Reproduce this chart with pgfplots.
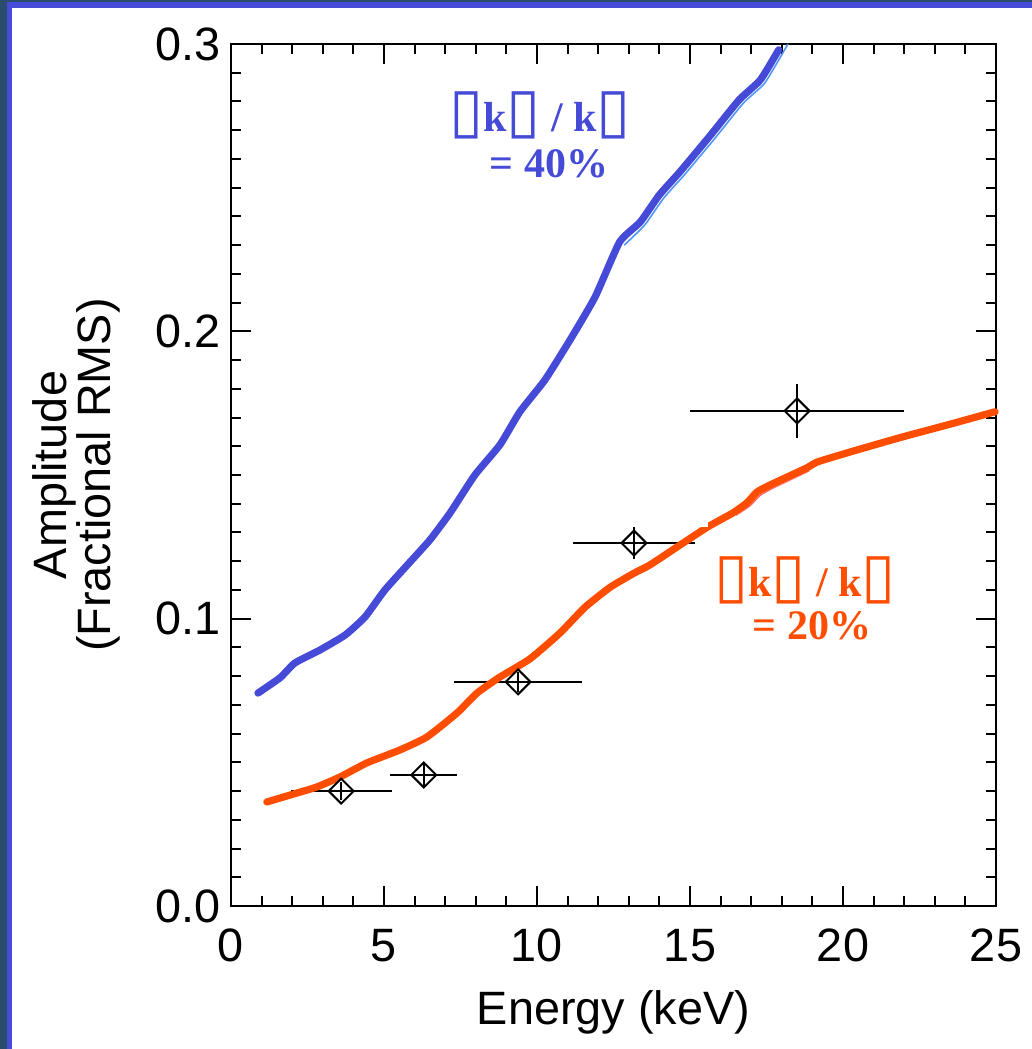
\documentclass[border=0pt]{standalone}
\usepackage{fontspec}
\setmainfont{Liberation Sans}
\newfontfamily\serifb{Liberation Serif}
\newfontfamily\symf{DejaVu Sans}
\usepackage{pgfplots}
\pgfplotsset{compat=1.18}
\definecolor{bluec}{RGB}{70,75,215}
\definecolor{lightbluec}{RGB}{80,150,255}
\definecolor{orangec}{RGB}{255,77,0}
\definecolor{lightorangec}{RGB}{255,110,110}
\definecolor{framedark}{RGB}{42,77,110}
\definecolor{frameblue}{RGB}{72,74,216}
\newcommand{\bx}{\smash{\symf\fontsize{31}{31}\selectfont ▯}}
\begin{document}
\begin{tikzpicture}
\useasboundingbox (0,0) rectangle (516pt,524.5pt);
\fill[white] (0,0) rectangle (516pt,524.5pt);
\fill[framedark] (0,523.5pt) rectangle (516pt,524.5pt);
\fill[framedark] (0,0) rectangle (3.5pt,524.5pt);
\fill[frameblue] (3.5pt,520.5pt) rectangle (516pt,523.5pt);
\fill[frameblue] (3.5pt,0) rectangle (6pt,523.5pt);
\begin{axis}[
  at={(115.5pt,71.5pt)}, anchor=south west,
  scale only axis, width=382.5pt, height=431pt,
  xmin=0, xmax=25, ymin=0, ymax=0.3,
  xtick={0,5,10,15,20,25}, ytick={0,0.1,0.2,0.3},
  minor x tick num=4, minor y tick num=9,
  tick align=inside,
  major tick length=10pt, minor tick length=5pt,
  every tick/.style={black, line width=1pt},
  axis line style={line width=1pt, black},
  clip=false,
  tick label style={font=\fontsize{23.4}{28}\selectfont},
  /pgf/number format/assume math mode=true,
  yticklabel style={/pgf/number format/fixed, /pgf/number format/fixed zerofill, /pgf/number format/precision=1, xshift=-1.5pt},
  xticklabel style={yshift=-8pt},
  xlabel={Energy (keV)},
  xlabel style={font=\fontsize{23.4}{28}\selectfont, at={(axis description cs:0.5,-0.138)}, anchor=base},
  ylabel={Amplitude\\(Fractional RMS)},
  ylabel style={font=\fontsize{23.4}{22}\selectfont, align=center, at={(axis description cs:-0.2026,0.5)}, anchor=center},
]
% data points with error bars
\addplot[only marks, black, line width=1pt, mark=square, mark size=4.4pt,
  mark options={rotate=45, line width=1pt, black, solid, fill=none},
  error bars/.cd, x dir=both, x explicit, y dir=both, y explicit, error mark=none,
  error bar style={line width=1pt, black}] coordinates {
(3.6,0.040) +- (1.65,0.003)
(6.3,0.0456) +- (1.1,0.004)
(9.38,0.078) +- (2.1,0.0035)
(13.17,0.1263) +- (2.0,0.0055)
(18.5,0.1723) +- (3.5,0.0095)
};
% faint model lines
\addplot[lightbluec, line width=0.8pt, smooth, tension=0.3] coordinates {
(12.85,0.2300) (13.52,0.2370) (14.15,0.2465) (14.82,0.2545) (15.8,0.2670) (16.75,0.2795) (17.45,0.2865) (18.2,0.3000)
};
\addplot[lightorangec, line width=0.8pt, smooth, tension=0.3] coordinates {
(16.5,0.1360) (16.96,0.1393) (17.3,0.1430) (17.72,0.1455) (18.9,0.1515)
};
% thick curves
\addplot[bluec, line width=3.6pt, smooth, tension=0.3, line cap=round, line join=round] coordinates {
(0.88,0.0741) (1.6,0.0794) (2.09,0.0846) (2.91,0.0891) (3.73,0.0943) (4.38,0.1006)
(5.03,0.1100) (5.85,0.1197) (6.5,0.1274) (7.16,0.1368) (7.97,0.150) (8.79,0.1605)
(9.44,0.172) (10.26,0.1831) (11.08,0.197) (11.9,0.212) (12.7,0.2311) (13.37,0.238)
(14.0,0.2475) (14.67,0.2555) (15.65,0.268) (16.6,0.2805) (17.3,0.2875) (17.9,0.298)
};
\addplot[orangec, line width=3.6pt, smooth, tension=0.3, line cap=round, line join=round] coordinates {
(1.17,0.0362) (2.15,0.0393) (2.8,0.0414) (3.56,0.0449) (4.44,0.0498) (5.52,0.0543)
(6.4,0.0588) (7.39,0.0672) (8.04,0.0741) (8.79,0.0797) (9.77,0.0860) (10.75,0.0950)
(11.57,0.1040) (12.4,0.1110) (13.2,0.1160) (13.69,0.1187) (14.77,0.1263) (15.59,0.1320)
(16.4,0.1368) (16.86,0.1403) (17.19,0.1441) (17.61,0.1465) (18.82,0.1525) (19.15,0.1545)
(20.23,0.1580) (21.86,0.1630) (23.4,0.1674) (24.97,0.1720)
};
\fill[white] (axis cs:15.0,0.1319) rectangle (axis cs:15.59,0.1378);
% annotations
\node[text=bluec, inner sep=0pt, anchor=base, font=\serifb\bfseries\fontsize{21}{21}\selectfont] at (axis cs:10.1,0.2694) {\bx k\bx{} / k\bx};
\node[text=bluec, inner sep=0pt, anchor=base, font=\serifb\bfseries\fontsize{21}{21}\selectfont] at (axis cs:10.39,0.2537) {= 40\%};
\node[text=orangec, inner sep=0pt, anchor=base, font=\serifb\bfseries\fontsize{21}{21}\selectfont] at (axis cs:18.76,0.1076) {\bx k\bx{} / k\bx};
\node[text=orangec, inner sep=0pt, anchor=base, font=\serifb\bfseries\fontsize{21}{21}\selectfont] at (axis cs:18.99,0.0926) {= 20\%};
\end{axis}
\end{tikzpicture}
\end{document}
